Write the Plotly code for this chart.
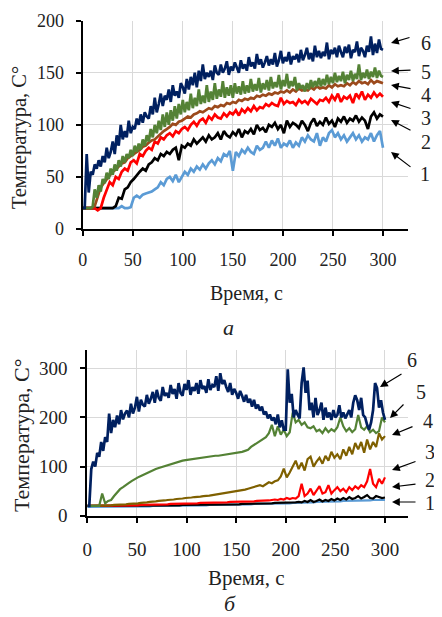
import plotly.graph_objects as go

# ---------------- DATA: chart (a) ----------------
STEP_A_FAST = 2   # seconds between samples for noisy series
STEP_A = 3

a6_navy = [
    20, 20, 72, 35, 55, 52, 62, 58, 66, 60,
    70, 64, 78, 68, 74, 84, 72, 90, 80, 100,
    86, 94, 88, 104, 92, 98, 96, 106, 100, 110,
    102, 112, 108, 106, 118, 110, 126, 112, 120, 130,
    118, 128, 124, 134, 122, 138, 128, 132, 126, 140,
    136, 130, 144, 134, 146, 138, 150, 136, 152, 142,
    158, 144, 150, 146, 152, 143, 157, 150, 148, 158,
    150, 154, 161, 148, 156, 152, 160, 155, 150, 162,
    154, 158, 152, 165, 156, 160, 154, 168, 158, 163,
    155, 160, 166, 157, 163, 158, 169, 156, 162, 171,
    159, 165, 161, 170, 158, 166, 163, 168, 160, 172,
    162, 167, 174, 163, 169, 161, 176, 165, 171, 164,
    170, 166, 179, 163, 172, 168, 174, 165, 176, 170,
    165, 175, 169, 177, 164, 172, 170, 180, 166, 174,
    171, 165, 176, 170, 185, 167, 178, 169, 182, 173,
    172]

a5_green = [
    20, 20, 20, 20, 20, 22, 38, 30, 42, 36,
    48, 44, 54, 48, 58, 52, 62, 56, 66, 60,
    70, 64, 72, 68, 76, 70, 80, 74, 82, 76,
    86, 80, 90, 84, 96, 88, 100, 92, 104, 95,
    110, 98, 112, 100, 114, 104, 118, 106, 120, 110,
    124, 112, 122, 114, 130, 116, 126, 118, 134, 120,
    128, 121, 138, 122, 132, 124, 140, 125, 134, 127,
    142, 126, 136, 128, 138, 126, 140, 130, 137, 129,
    142, 130, 138, 131, 144, 132, 139, 133, 145, 131,
    140, 134, 143, 133, 146, 135, 141, 136, 148, 134,
    143, 137, 149, 135, 142, 137, 146, 133, 140, 135,
    138, 132, 140, 134, 143, 136, 142, 137, 145, 137,
    144, 138, 148, 139, 146, 140, 150, 141, 147, 142,
    151, 140, 148, 143, 152, 142, 149, 144, 158, 143,
    150, 145, 153, 144, 151, 146, 155, 145, 152, 147,
    146]

a4_brown = [
    20, 20, 20, 20, 22, 32, 40, 44, 48, 52,
    55, 57, 60, 63, 64, 68, 70, 72, 74, 76,
    79, 80, 83, 85, 86, 89, 92, 94, 96, 98,
    101, 100, 103, 104, 106, 108, 107, 110, 111, 113,
    112, 114, 116, 115, 118, 117, 119, 118, 121, 120,
    122, 121, 124, 123, 125, 124, 126, 125, 128, 127,
    129, 128, 130, 129, 131, 130, 132, 131, 133, 131,
    134, 132, 135, 133, 134, 133, 136, 134, 137, 135,
    136, 135, 138, 136, 139, 137, 138, 137, 140, 138,
    141, 139, 142, 140, 141, 139, 143, 140, 142, 141,
    140]

a3_red = [
    20, 20, 20, 20, 20, 18, 20, 30, 38, 45,
    42, 50, 48, 55, 58, 56, 64, 66, 63, 72,
    70, 75, 78, 76, 84, 82, 88, 86, 90, 92,
    89, 94, 92, 96, 98, 95, 100, 103, 99, 104,
    106, 102, 108, 105, 110, 107, 106, 111, 108, 112,
    110, 114, 109, 115, 112, 116, 113, 118, 114, 117,
    116, 120, 118, 121, 119, 118, 126, 120, 123, 121,
    122, 119, 124, 121, 123, 120, 125, 122, 120, 124,
    123, 126, 122, 128, 124, 130, 122, 127, 125, 128,
    121, 130, 126, 132, 124, 129, 126, 131, 127, 130,
    127]

a2_black = [
    20, 20, 20, 20, 20, 20, 20, 20, 20, 20,
    20, 22, 30, 29, 38, 40, 45, 48, 52, 55,
    58, 56, 62, 64, 68, 66, 72, 70, 74, 72,
    76, 78, 66, 80, 78, 82, 80, 86, 82, 85,
    88, 84, 90, 86, 88, 92, 86, 94, 90, 88,
    93, 90, 96, 88, 94, 92, 96, 91, 100, 95,
    97, 93, 100, 98, 102, 96, 100, 92, 104, 98,
    102, 100, 97, 104, 100, 94, 102, 106, 99, 103,
    100, 107, 101, 104, 98, 106, 103, 108, 102, 106,
    104, 109, 103, 107, 104, 96, 108, 112, 106, 110,
    108]

a1_blue = [
    20, 20, 20, 20, 20, 20, 20, 20, 20, 20,
    20, 20, 20, 22, 20, 20, 21, 30, 32, 30,
    33, 34, 35, 36, 38, 40, 45, 42, 48, 50,
    46, 52, 45, 50, 55, 52, 58, 55, 60, 57,
    62, 58, 63, 66, 62, 68, 65, 72, 70, 75,
    56, 74, 70, 76, 73, 78, 74, 72, 80, 76,
    78, 84, 78, 85, 80, 87, 78, 82, 80, 85,
    78, 83, 80, 88, 84, 90, 86, 84, 92, 80,
    88, 84, 92, 95, 88, 92, 86, 90, 84, 88,
    92, 86, 90, 84, 88, 86, 92, 84, 90, 94,
    78]

# ---------------- DATA: chart (б) ----------------
b6_navy = [
    20, 20, 95, 110, 100, 128, 120, 150, 132, 160,
    150, 208, 168, 195, 180, 204, 186, 215, 196, 208,
    214, 200, 228, 208, 220, 242, 212, 236, 226, 222,
    246, 228, 238, 252, 230, 256, 240, 234, 262, 244,
    250, 240, 266, 248, 258, 238, 270, 250, 244, 268,
    256, 276, 246, 262, 254, 270, 248, 276, 258, 264,
    250, 278, 256, 266, 262, 284, 254, 290, 268, 276,
    262, 252, 270, 246, 258, 250, 238, 254, 244, 232,
    246, 230, 238, 222, 236, 218, 226, 214, 222, 206,
    212, 198, 206, 194, 200, 186, 206, 180, 194, 175,
    175, 298, 230, 248, 200, 215, 205, 198, 270, 302,
    250, 275, 215, 230, 200, 240, 205, 215, 230, 195,
    220, 200, 210, 195, 215, 200, 205, 225, 200, 210,
    198, 205, 215, 200, 230, 245, 235, 215, 240, 205,
    200, 185, 175, 190, 215, 270, 260, 220, 235, 210,
    195]

b5_green = [
    20, 20, 20, 20, 20, 45, 25, 30, 32, 40,
    48, 54, 58, 63, 67, 71, 75, 78, 81, 84,
    87, 90, 92, 95, 97, 99, 101, 103, 105, 107,
    109, 110, 112, 113, 114, 115, 116, 117, 118, 119,
    120, 120, 121, 122, 122, 123, 124, 124, 125, 126,
    128, 129, 130, 132, 134, 140, 144, 148, 152, 155,
    160, 168, 185, 162, 182, 165, 175, 162, 170, 210,
    190, 195, 185, 190, 180, 178, 182, 172, 175, 168,
    178, 170, 176, 172, 180, 200, 182, 172, 178, 170,
    176, 205, 180, 175, 182, 170, 175, 168, 172, 200,
    190]

b4_olive = [
    20, 20, 20, 20, 20, 20, 21, 21, 21, 22,
    22, 22, 23, 23, 24, 24, 25, 25, 26, 26,
    27, 28, 28, 29, 30, 30, 31, 32, 32, 33,
    34, 34, 35, 36, 36, 37, 38, 38, 39, 40,
    40, 41, 42, 43, 44, 45, 45, 46, 47, 48,
    50, 51, 52, 53, 55, 57, 58, 60, 62, 60,
    64, 68, 66, 70, 72, 80, 96, 78, 88, 100,
    112, 95, 108, 92, 115, 120, 100, 110, 118, 106,
    122, 112, 130, 118, 125, 115, 135, 122, 140, 125,
    148, 135, 150, 128, 155, 135, 150, 140, 168, 155,
    162]

b3_red = [
    20, 20, 20, 20, 20, 20, 20, 20, 20, 20,
    20, 20, 21, 21, 21, 21, 21, 21, 22, 22,
    22, 22, 22, 23, 23, 23, 23, 23, 24, 24,
    24, 24, 24, 25, 25, 25, 25, 25, 26, 26,
    26, 26, 26, 27, 27, 27, 27, 27, 28, 28,
    28, 28, 28, 29, 29, 29, 29, 30, 30, 30,
    31, 31, 32, 33, 32, 34, 33, 36, 34, 36,
    35, 40, 65, 40, 45, 55, 42, 50, 60, 45,
    48, 62, 45, 52, 58, 50, 55, 48, 58, 52,
    60, 55, 62, 58, 70, 95, 65, 58, 75, 65,
    78]

b2_black = [
    20, 20, 20, 20, 20, 20, 20, 20, 20, 20,
    20, 20, 20, 20, 20, 20, 20, 20, 20, 20,
    21, 21, 21, 21, 21, 21, 21, 21, 21, 21,
    21, 21, 22, 22, 22, 22, 22, 22, 22, 22,
    22, 22, 22, 23, 23, 23, 23, 23, 23, 23,
    23, 23, 24, 24, 24, 24, 24, 24, 25, 25,
    25, 25, 25, 26, 26, 26, 26, 27, 27, 27,
    27, 28, 27, 30, 28, 32, 28, 30, 33, 29,
    32, 30, 34, 31, 35, 32, 36, 33, 38, 34,
    36, 40, 35, 38, 42, 36, 35, 40, 38, 36,
    37]

b1_blue = [
    18, 18, 18, 18, 18, 18, 18, 18, 18, 18,
    18, 18, 18, 19, 19, 19, 19, 19, 19, 19,
    19, 19, 20, 20, 20, 20, 20, 20, 20, 20,
    20, 20, 21, 21, 21, 21, 21, 21, 21, 21,
    21, 22, 22, 22, 22, 22, 22, 22, 22, 23,
    23, 23, 23, 23, 23, 23, 24, 24, 24, 24,
    24, 24, 24, 25, 25, 25, 25, 25, 25, 26,
    26, 26, 26, 27, 27, 27, 27, 28, 28, 28,
    28, 28, 29, 29, 29, 29, 30, 30, 30, 30,
    30, 31, 31, 31, 31, 31, 32, 32, 32, 32,
    32]

x_ticks = [0, 50, 100, 150, 200, 250, 300]
y_ticks_a = [0, 50, 100, 150, 200]
y_ticks_b = [0, 100, 200, 300]
y_title = "Температура, С°"
x_title = "Время, с"

# ---------------- STYLE ----------------
C_BLUE = "#5B9BD5"
C_BLACK = "#000000"
C_RED = "#FF0000"
C_BROWN = "#9C4A1C"
C_OLIVE = "#7F6000"
C_GREEN = "#548235"
C_NAVY = "#002060"
FONT = "Liberation Serif, Times New Roman, DejaVu Serif, serif"
W, H = 442, 617
OFF = 8  # page body margin of the rendered html


def times(values, step):
    return [i * step for i in range(len(values))]


def px_x(p):
    return (p - OFF) / W


def px_y(p):
    return 1 - (p - OFF) / H


fig = go.Figure()

top = [(a1_blue, STEP_A, C_BLUE), (a2_black, STEP_A, C_BLACK), (a3_red, STEP_A, C_RED),
       (a4_brown, STEP_A, C_BROWN), (a5_green, STEP_A_FAST, C_GREEN), (a6_navy, STEP_A_FAST, C_NAVY)]
for vals, st, col in top:
    fig.add_trace(go.Scatter(x=times(vals, st), y=vals, mode="lines",
                             line=dict(color=col, width=2.7), xaxis="x", yaxis="y",
                             hoverinfo="skip"))

bottom = [(b1_blue, 3, C_BLUE, 2.2), (b2_black, 3, C_BLACK, 2.2), (b3_red, 3, C_RED, 2.2),
          (b4_olive, 3, C_OLIVE, 2.2), (b5_green, 3, C_GREEN, 2.2), (b6_navy, 2, C_NAVY, 2.7)]
for vals, st, col, w in bottom:
    fig.add_trace(go.Scatter(x=times(vals, st), y=vals, mode="lines",
                             line=dict(color=col, width=w), xaxis="x2", yaxis="y2",
                             hoverinfo="skip"))


def axis_common(size):
    return dict(
        showgrid=True, gridcolor="#d9d9d9", gridwidth=1,
        showline=True, linecolor="black", linewidth=2,
        ticks="outside", ticklen=5, tickwidth=1.5, tickcolor="black",
        tickfont=dict(family=FONT, size=size, color="#222222"),
        zeroline=False, fixedrange=True, automargin=False,
    )


fig.update_layout(
    width=W, height=H, margin=dict(l=0, r=0, t=0, b=0, pad=0, autoexpand=False),
    paper_bgcolor="white", plot_bgcolor="white", showlegend=False,
    font=dict(family=FONT),
    xaxis=dict(domain=[px_x(82.7), px_x(408)], anchor="y", range=[0, 325],
               tickvals=x_ticks, ticklabelstandoff=8, **axis_common(18)),
    yaxis=dict(domain=[px_y(229), px_y(20.7)], anchor="x", range=[0, 200],
               tickvals=y_ticks_a, ticklabelstandoff=8, **axis_common(18)),
    xaxis2=dict(domain=[px_x(87.3), px_x(408)], anchor="y2", range=[0, 323.2],
                tickvals=x_ticks, ticklabelstandoff=10, **axis_common(19)),
    yaxis2=dict(domain=[px_y(515.7), px_y(350)], anchor="x2", range=[0, 337.3],
                tickvals=y_ticks_b, ticklabelstandoff=9, **axis_common(19)),
)

ann = []
# axis titles and panel letters
ann.append(dict(text=y_title, x=px_x(20), y=px_y(138), textangle=-90,
                font=dict(family=FONT, size=20.5, color="#222222")))
ann.append(dict(text=y_title, x=px_x(21), y=px_y(435), textangle=-90,
                font=dict(family=FONT, size=22, color="#222222")))
ann.append(dict(text=x_title, x=px_x(247), y=px_y(293), font=dict(family=FONT, size=20, color="#222222")))
ann.append(dict(text=x_title, x=px_x(247), y=px_y(578), font=dict(family=FONT, size=21, color="#222222")))
ann.append(dict(text="<i>а</i>", x=px_x(228), y=px_y(327), font=dict(family=FONT, size=22, color="#222222")))
ann.append(dict(text="<i>б</i>", x=px_x(230), y=px_y(603), font=dict(family=FONT, size=22, color="#222222")))

# curve labels: (label, head_px, tail_px, text_left_px, text_center_y)
top_lab = [
    ("6", (391, 43), (411, 37), (419, 43)),
    ("5", (391, 71), (412, 70), (419, 72)),
    ("4", (391, 85), (412, 89), (419, 95)),
    ("3", (391, 102), (412, 109), (419, 118)),
    ("2", (391, 120), (412, 131), (419, 142)),
    ("1", (391, 152), (412, 168), (418, 174)),
]
bot_lab = [
    ("6", (380, 387), (403, 373), (405, 360)),
    ("5", (390, 418), (405, 403), (414, 392)),
    ("4", (392, 435), (414, 426), (421, 421)),
    ("3", (392, 470), (417, 461), (423, 452)),
    ("2", (392, 487), (417, 484), (423, 480)),
    ("1", (392, 502), (417, 502), (423, 503)),
]
for lab, hd, tl, tp in top_lab + bot_lab:
    ann.append(dict(text="", x=px_x(hd[0]), y=px_y(hd[1]), ax=tl[0] - hd[0], ay=tl[1] - hd[1],
                    showarrow=True, arrowhead=2, arrowsize=1.3, arrowwidth=1.2,
                    arrowcolor="black", standoff=0, startstandoff=0))
    ann.append(dict(text=lab, x=px_x(tp[0]), y=px_y(tp[1]), xanchor="left",
                    font=dict(family=FONT, size=20, color="#222222")))

for a in ann:
    a.setdefault("xref", "paper")
    a.setdefault("yref", "paper")
    a.setdefault("showarrow", False)
    a.setdefault("xanchor", "center")
    a.setdefault("yanchor", "middle")
fig.update_layout(annotations=ann)

fig.write_html("out.html")
